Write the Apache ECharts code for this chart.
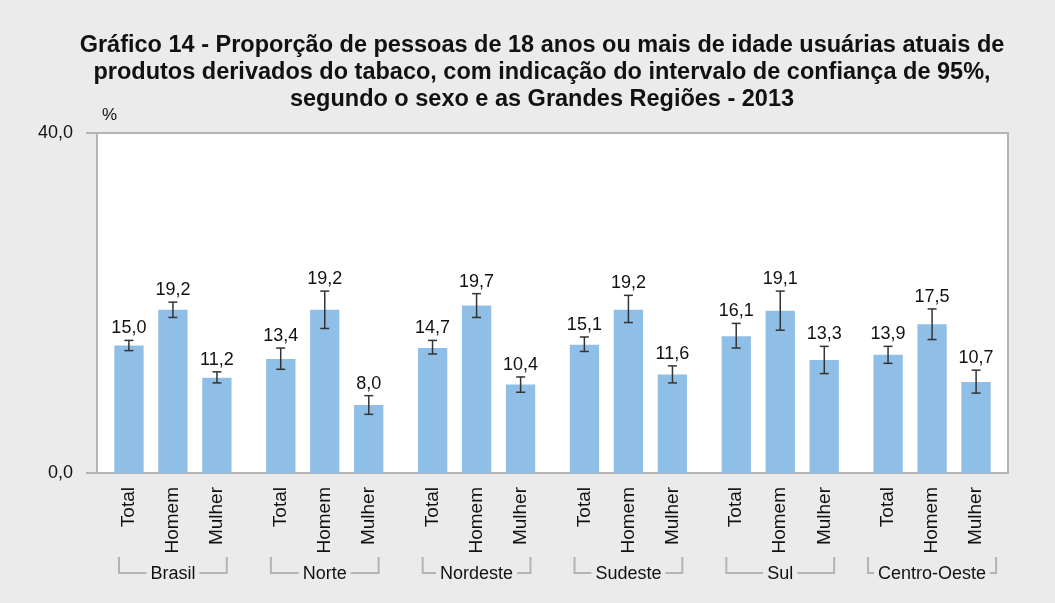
<!DOCTYPE html>
<html><head><meta charset="utf-8">
<script src="https://cdn.jsdelivr.net/npm/echarts@6/dist/echarts.min.js"></script>
<style>html,body{margin:0;padding:0;background:#ebebeb;}#c{width:1055px;height:603px;}</style>
</head><body><div id="c"></div>
<script>
const regions = ['Brasil','Norte','Nordeste','Sudeste','Sul','Centro-Oeste'];
const sexes = ['Total','Homem','Mulher'];
const totalVals  = [15.0, 13.4, 14.7, 15.1, 16.1, 13.9];
const homemVals  = [19.2, 19.2, 19.7, 19.2, 19.1, 17.5];
const mulherVals = [11.2, 8.0, 10.4, 11.6, 13.3, 10.7];
const totalLow   = [14.4, 12.2, 14.0, 14.3, 14.7, 12.9];
const totalHigh  = [15.6, 14.7, 15.6, 16.0, 17.6, 14.9];
const homemLow   = [18.3, 17.0, 18.3, 17.7, 16.8, 15.7];
const homemHigh  = [20.1, 21.4, 21.1, 20.9, 21.4, 19.3];
const mulherLow  = [10.6, 6.9, 9.5, 10.6, 11.7, 9.4];
const mulherHigh = [11.9, 9.1, 11.3, 12.6, 14.9, 12.1];
const yTicks = [0, 40];

const vals = [totalVals, homemVals, mulherVals];
const lows = [totalLow, homemLow, mulherLow];
const highs = [totalHigh, homemHigh, mulherHigh];

const FONT = 'Liberation Sans';
const LBL_FONT = '18px ' + FONT;
const BAR_FRAC = 0.193, STEP_FRAC = 0.29;
const fmt = v => v.toFixed(1).replace('.', ',');

const measureCtx = document.createElement('canvas').getContext('2d');
function textW(t) { measureCtx.font = LBL_FONT; return measureCtx.measureText(t).width; }

const errData = [];
regions.forEach((r, i) => {
  for (let k = 0; k < 3; k++) errData.push([i, k, lows[k][i], highs[k][i], vals[k][i]]);
});

function renderErr(params, api) {
  const i = api.value(0), k = api.value(1);
  const lo = api.value(2), hi = api.value(3), v = api.value(4);
  const catW = api.size([1, 0])[0];
  const dx = (k - 1) * catW * STEP_FRAC;
  const pLo = api.coord([i, lo]), pHi = api.coord([i, hi]), p0 = api.coord([i, 0]);
  const x = pLo[0] + dx;
  const cap = 4.5;
  const st = {stroke: '#333', lineWidth: 1.5};
  const children = [
    {type: 'line', shape: {x1: x, y1: pLo[1], x2: x, y2: pHi[1]}, style: st},
    {type: 'line', shape: {x1: x - cap, y1: pLo[1], x2: x + cap, y2: pLo[1]}, style: st},
    {type: 'line', shape: {x1: x - cap, y1: pHi[1], x2: x + cap, y2: pHi[1]}, style: st},
    {type: 'text', x: x, y: pHi[1] - 3, style: {text: fmt(v), font: LBL_FONT, fill: '#111', align: 'center', verticalAlign: 'bottom'}},
    {type: 'text', x: x, y: p0[1] + 14, rotation: Math.PI / 2,
      style: {text: sexes[k], font: '19px ' + FONT, fill: '#111', align: 'right', verticalAlign: 'middle'}}
  ];
  if (k === 1) {
    const tw = textW(regions[i]);
    const hw = Math.max(catW * 0.355, tw / 2 + 10);
    const yTop = p0[1] + 84, yBot = p0[1] + 100;
    const bs = {stroke: '#b4b4b4', lineWidth: 2, fill: null};
    children.push({type: 'polyline', shape: {points: [[pLo[0] - hw, yTop], [pLo[0] - hw, yBot], [pLo[0] + hw, yBot], [pLo[0] + hw, yTop]]}, style: bs});
    children.push({type: 'text', x: pLo[0], y: yBot + 1, style: {text: regions[i], font: LBL_FONT, fill: '#111', align: 'center', verticalAlign: 'middle', backgroundColor: '#ebebeb', padding: [0, 4]}});
  }
  return {type: 'group', children: children};
}

const chart = echarts.init(document.getElementById('c'));
const barStyle = {color: '#8fbfe6'};
chart.setOption({
  backgroundColor: '#ebebeb',
  animation: false,
  title: {
    text: 'Gráfico 14 - Proporção de pessoas de 18 anos ou mais de idade usuárias atuais de\nprodutos derivados do tabaco, com indicação do intervalo de confiança de 95%,\nsegundo o sexo e as Grandes Regiões - 2013',
    left: 537, textAlign: 'center', top: 27,
    textStyle: {fontFamily: FONT, fontWeight: 'bold', fontSize: 23.5, lineHeight: 27, color: '#111'}
  },
  grid: {left: 97, right: 47, top: 133, bottom: 130, show: true, backgroundColor: '#fff', borderColor: '#b4b4b4', borderWidth: 2},
  xAxis: {
    type: 'category', data: regions,
    axisLine: {lineStyle: {color: '#b4b4b4', width: 2}},
    axisTick: {show: false}, axisLabel: {show: false}
  },
  yAxis: {
    type: 'value', min: yTicks[0], max: yTicks[1], interval: 40,
    name: '%', nameLocation: 'end', nameGap: 9,
    nameTextStyle: {fontFamily: FONT, fontSize: 17, color: '#111', align: 'left', padding: [0, 0, 0, 5]},
    axisLine: {show: true, lineStyle: {color: '#b4b4b4', width: 2}},
    axisTick: {show: true, length: 11, lineStyle: {color: '#b4b4b4', width: 2}},
    splitLine: {show: false},
    axisLabel: {margin: 24, fontFamily: FONT, fontSize: 18, color: '#111', formatter: v => fmt(v)}
  },
  series: [
    {type: 'bar', name: 'Total', data: totalVals, barWidth: (BAR_FRAC * 100) + '%', barGap: '50%', itemStyle: barStyle},
    {type: 'bar', name: 'Homem', data: homemVals, barWidth: (BAR_FRAC * 100) + '%', barGap: '50%', itemStyle: barStyle},
    {type: 'bar', name: 'Mulher', data: mulherVals, barWidth: (BAR_FRAC * 100) + '%', barGap: '50%', itemStyle: barStyle},
    {type: 'custom', data: errData, renderItem: renderErr, clip: false, z: 5, encode: {x: 0, y: [2, 3]}}
  ]
});
</script></body></html>
